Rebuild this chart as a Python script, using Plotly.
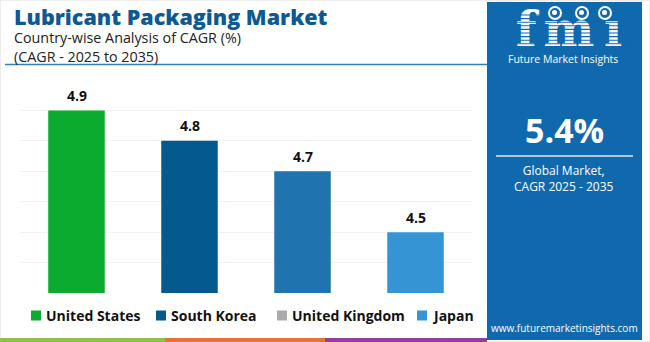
import plotly.graph_objects as go

W, H = 650, 342

countries = ["United States", "South Korea", "United Kingdom", "Japan"]
cagr = [4.9, 4.8, 4.7, 4.5]
bar_colors = ["#0aab2e", "#045a8d", "#1f74b0", "#3494d4"]
legend_colors = ["#0aab2e", "#045a8d", "#aaaaaa", "#3494d4"]
grid_ticks = [4.3, 4.4, 4.5, 4.6, 4.7, 4.8, 4.9]

title_text = "Lubricant Packaging Market"
subtitle_lines = ["Country-wise Analysis of CAGR (%)", "(CAGR - 2025 to 2035)"]
global_value = "5.4%"
global_lines = ["Global Market,", "CAGR 2025 - 2035"]
site = "www.futuremarketinsights.com"

PANEL = "#1169ad"
TITLE_BLUE = "#0d5a92"
FONT = "Open Sans"


def fx(x):
    return x / W


def fy(y):
    return 1 - y / H


fig = go.Figure()

fig.add_trace(go.Bar(
    x=countries, y=cagr, marker=dict(color=bar_colors, line=dict(width=0)),
    showlegend=False, hoverinfo="x+y", xaxis="x", yaxis="y",
))

# logo wordmark letters on an overlay axis so stripes can be laid over them
fig.add_trace(go.Scatter(
    x=[526, 569, 613], y=[34, 34, 34], mode="text", text=["f", "m", "ı"],
    textposition="middle center",
    textfont=dict(family="DejaVu Serif", size=48, color="white", weight="bold"),
    xaxis="x2", yaxis="y2", showlegend=False, hoverinfo="skip", cliponaxis=False,
))

shapes = []
# outer frame
shapes.append(dict(type="rect", xref="paper", yref="paper", x0=0, x1=1, y0=0, y1=1,
                   line=dict(color="#dcdcdc", width=1), fillcolor="rgba(0,0,0,0)", layer="below"))
# right info panel
shapes.append(dict(type="rect", xref="paper", yref="paper", x0=fx(487), x1=fx(642), y0=fy(340), y1=fy(2),
                   line=dict(width=0), fillcolor=PANEL, layer="below"))
# divider under subtitle
shapes.append(dict(type="line", xref="paper", yref="paper", x0=fx(5), x1=fx(487), y0=fy(64.5), y1=fy(64.5),
                   line=dict(color="#3a7db4", width=1.6)))
# divider inside panel
shapes.append(dict(type="line", xref="paper", yref="paper", x0=fx(496), x1=fx(633), y0=fy(156), y1=fy(156),
                   line=dict(color="rgba(255,255,255,0.85)", width=1.5)))
# bottom colour strip
for x0, x1, c in [(0, 165, "#8cc152"), (165, 325, "#e8703a"), (325, 487, "#8e3fa0")]:
    shapes.append(dict(type="rect", xref="paper", yref="paper", x0=fx(x0), x1=fx(x1), y0=0, y1=fy(338),
                       line=dict(width=0), fillcolor=c))
# stripes across the wordmark
yy = 15.0
while yy < 50:
    shapes.append(dict(type="line", xref="x2", yref="y2", x0=504, x1=638, y0=yy, y1=yy,
                       line=dict(color=PANEL, width=1.1), layer="above"))
    yy += 3.6
# globe icons
for gx in [555, 582, 605]:
    shapes.append(dict(type="circle", xref="x2", yref="y2", x0=gx - 6, x1=gx + 6, y0=7, y1=19,
                       line=dict(color="white", width=2), fillcolor=PANEL, layer="above"))
    shapes.append(dict(type="circle", xref="x2", yref="y2", x0=gx - 3, x1=gx + 2, y0=10, y1=15,
                       line=dict(width=0), fillcolor="white", layer="above"))
# legend swatches
leg_x = [31, 156, 277, 417]
for lx, c in zip(leg_x, legend_colors):
    shapes.append(dict(type="rect", xref="paper", yref="paper", x0=fx(lx), x1=fx(lx + 10),
                       y0=fy(320.5), y1=fy(310.5), line=dict(width=0), fillcolor=c))

ann = []
ann.append(dict(text=title_text, x=fx(12), y=fy(16), xref="paper", yref="paper",
                xanchor="left", yanchor="middle", showarrow=False,
                font=dict(family=FONT, size=21.5, color=TITLE_BLUE, weight=800)))
ann.append(dict(text="<br>".join(subtitle_lines), x=fx(12), y=fy(47), xref="paper", yref="paper",
                xanchor="left", yanchor="middle", align="left", showarrow=False,
                font=dict(family=FONT, size=14.3, color="#222222")))
# value labels above bars
for c, v in zip(countries, cagr):
    ann.append(dict(text=f"<b>{v}</b>", x=c, y=v, xref="x", yref="y", yshift=15,
                    xanchor="center", yanchor="middle", showarrow=False,
                    font=dict(family=FONT, size=14, color="#111111")))
# legend labels
for lx, name in zip(leg_x, countries):
    ann.append(dict(text=f"<b>{name}</b>", x=fx(lx + 13), y=fy(315.5), xref="paper", yref="paper",
                    xanchor="left", yanchor="middle", showarrow=False,
                    font=dict(family=FONT, size=14, color="#111111")))
# panel texts
ann.append(dict(text="Future Market Insights", x=fx(563), y=fy(59), xref="paper", yref="paper",
                xanchor="center", yanchor="middle", showarrow=False,
                font=dict(family=FONT, size=10.5, color="white")))
ann.append(dict(text=f"<b>{global_value}</b>", x=fx(564), y=fy(130), xref="paper", yref="paper",
                xanchor="center", yanchor="middle", showarrow=False,
                font=dict(family=FONT, size=34, color="white")))
ann.append(dict(text="<br>".join(global_lines), x=fx(564), y=fy(178), xref="paper", yref="paper",
                xanchor="center", yanchor="middle", align="center", showarrow=False,
                font=dict(family=FONT, size=12, color="white")))
ann.append(dict(text=site, x=fx(564), y=fy(328), xref="paper", yref="paper",
                xanchor="center", yanchor="middle", showarrow=False,
                font=dict(family=FONT, size=10, color="white")))

fig.update_layout(
    width=W, height=H, margin=dict(l=0, r=0, t=0, b=0),
    paper_bgcolor="white", plot_bgcolor="rgba(0,0,0,0)",
    bargap=0.5,
    xaxis=dict(domain=[fx(20), fx(472)], showticklabels=False, showgrid=False, zeroline=False,
               showline=False, ticks=""),
    yaxis=dict(domain=[fy(293), fy(80)], range=[4.3, 5.0], tickvals=grid_ticks, showticklabels=False,
               showgrid=True, gridcolor="#f1f1f1", gridwidth=1, zeroline=False, showline=False, ticks=""),
    xaxis2=dict(domain=[0, 1], range=[0, W], visible=False, anchor="y2", fixedrange=True),
    yaxis2=dict(domain=[0, 1], range=[H, 0], visible=False, anchor="x2", fixedrange=True),
    shapes=shapes, annotations=ann, showlegend=False,
)

fig.write_html("out.html")
